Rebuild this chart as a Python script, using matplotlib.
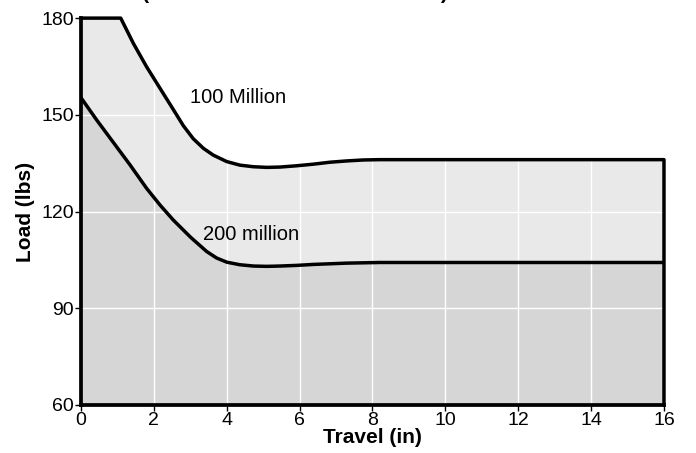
import numpy as np
import matplotlib
matplotlib.use('Agg')
import matplotlib.pyplot as plt

plt.rcParams['font.family'] = ['Liberation Sans', 'DejaVu Sans']

# values
travel_100 = [0, 1.09, 1.44, 1.80, 2.17, 2.53, 2.81, 3.08, 3.36, 3.63, 4.00, 4.36,
              4.73, 5.10, 5.46, 5.92, 6.38, 6.83, 7.29, 7.75, 8.2, 16]
load_100 = [180, 180, 172.1, 164.9, 158.2, 151.7, 146.6, 142.6, 139.6, 137.5, 135.5, 134.4,
            133.9, 133.7, 133.8, 134.2, 134.7, 135.3, 135.7, 136.0, 136.1, 136.1]
travel_200 = [0, 0.43, 0.89, 1.35, 1.80, 2.17, 2.53, 3.01, 3.17, 3.45, 3.72, 4.00,
              4.36, 4.73, 5.10, 5.46, 5.92, 6.38, 7.29, 8.2, 16]
load_200 = [155.3, 148.4, 141.4, 134.4, 127.2, 122.0, 117.4, 112.0, 110.4, 107.6, 105.6, 104.3,
            103.5, 103.1, 103.0, 103.1, 103.3, 103.6, 104.0, 104.2, 104.2]
xticks = [0, 2, 4, 6, 8, 10, 12, 14, 16]
yticks = [60, 90, 120, 150, 180]
title = 'Life (in Millions of Inches of Travel) for Rated Axial Load'

fig = plt.figure(figsize=(6.96, 4.53), dpi=100)
ax = fig.add_axes([0.1164, 0.106, 0.8376, 0.854])

ymin = yticks[0]
ax.fill_between(travel_100, load_100, ymin, color='#e9e9e9', zorder=1, lw=0)
ax.fill_between(travel_200, load_200, ymin, color='#d6d6d6', zorder=1.2, lw=0)

# outline: 100M curve plus right edge, left edge, 200M curve
ax.plot(travel_100 + [travel_100[-1]], load_100 + [ymin], color='black', lw=2.5,
        zorder=3, clip_on=False, solid_joinstyle='round')
ax.plot([0, 0], [ymin, load_100[0]], color='black', lw=2.7, zorder=3, clip_on=False)
ax.plot(travel_200, load_200, color='black', lw=2.5, zorder=3, solid_joinstyle='round')

ax.text(3.0, 155.5, '100 Million', fontsize=14.5, va='center', ha='left', zorder=4)
ax.text(3.35, 113, '200 million', fontsize=14.5, va='center', ha='left', zorder=4)

ax.set_xlim(0, 16)
ax.set_ylim(60, 180)
ax.set_xticks(xticks)
ax.set_yticks(yticks)
ax.set_axisbelow(False)
ax.grid(True, color='white', lw=1.0)
for s in ['top', 'right', 'left']:
    ax.spines[s].set_visible(False)
ax.spines['bottom'].set_linewidth(2.7)
ax.spines['bottom'].set_zorder(3.5)
ax.tick_params(axis='both', labelsize=14, length=4, width=1, direction='out', pad=1)
ax.set_xlabel('Travel (in)', fontsize=15, fontweight='bold', labelpad=-1)
ax.set_ylabel('Load (lbs)', fontsize=15, fontweight='bold', labelpad=5)

# title sits mostly above the top edge, as in the reference
fig.text(0.543, 1 + 1 / 453, title, fontsize=15, fontweight='bold',
         ha='center', va='baseline')

fig.savefig('out.png', dpi=100)
